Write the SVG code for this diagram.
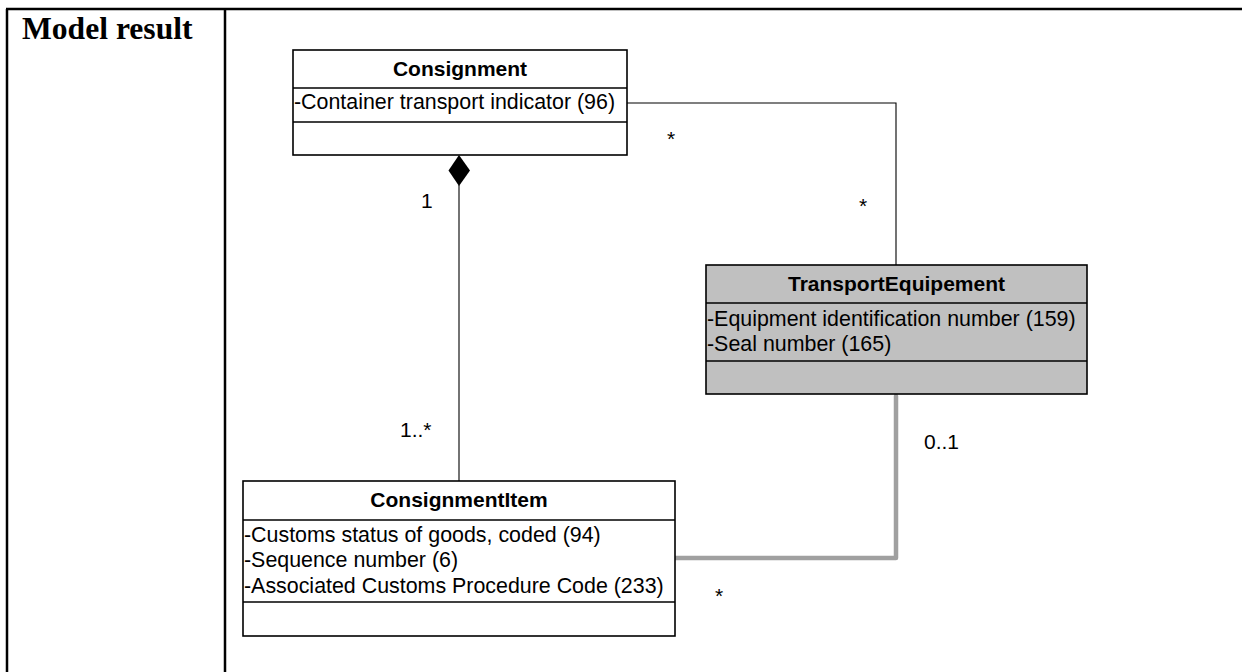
<svg xmlns="http://www.w3.org/2000/svg" width="1242" height="672" viewBox="0 0 1242 672">
<style>
.frame{stroke:#000;stroke-width:2.5;fill:none}
.box{stroke:#000;stroke-width:1.6;fill:#fff}
.gbox{stroke:#000;stroke-width:1.6;fill:#c0c0c0}
.div{stroke:#000;stroke-width:1.6}
.hd{font-family:"Liberation Sans",Arial,sans-serif;font-size:21px;font-weight:bold;fill:#000;text-anchor:middle}
.at{font-family:"Liberation Sans",Arial,sans-serif;font-size:21.4px;fill:#000}
.lb{font-family:"Liberation Sans",Arial,sans-serif;font-size:21px;fill:#000}
.thin{stroke:#000;stroke-width:1.1;fill:none}
.thick{stroke:#a0a0a0;stroke-width:4.5;fill:none;stroke-linecap:round;stroke-linejoin:round}
</style>
<rect width="1242" height="672" fill="#fff"/>
<g id="table">
<line class="frame" x1="6" y1="9" x2="1242" y2="9"/>
<line class="frame" x1="7" y1="9" x2="7" y2="672"/>
<line class="frame" x1="225" y1="9" x2="225" y2="672"/>
<text x="22" y="38.5" font-family="'Liberation Serif','Times New Roman',serif" font-size="31.6" font-weight="bold">Model result</text>
</g>
<g id="connectors">
<polyline class="thin" points="627,103 896,103 896,265"/>
<line class="thin" x1="459" y1="185" x2="459" y2="481"/>
<polygon points="459,155 470,170.5 459,186 448.5,170.5" fill="#000"/>
<polyline class="thick" points="896,396 896,558 675,558"/>
<text class="lb" x="667" y="146">*</text>
<text class="lb" x="859" y="213">*</text>
<text class="lb" x="421" y="208">1</text>
<text class="lb" x="400" y="437">1..*</text>
<text class="lb" x="924" y="449">0..1</text>
<text class="lb" x="715" y="603">*</text>
</g>
<g id="Consignment">
<rect class="box" x="293" y="50" width="334" height="105"/>
<line class="div" x1="293" y1="88" x2="627" y2="88"/>
<line class="div" x1="293" y1="122" x2="627" y2="122"/>
<text class="hd" x="460" y="76">Consignment</text>
<text class="at" x="294" y="109">-Container transport indicator (96)</text>
</g>
<g id="TransportEquipement">
<rect class="gbox" x="706" y="265" width="381" height="129"/>
<line class="div" x1="706" y1="303" x2="1087" y2="303"/>
<line class="div" x1="706" y1="361" x2="1087" y2="361"/>
<text class="hd" x="896.5" y="291">TransportEquipement</text>
<text class="at" x="707" y="326">-Equipment identification number (159)</text>
<text class="at" x="707" y="351">-Seal number (165)</text>
</g>
<g id="ConsignmentItem">
<rect class="box" x="243" y="481" width="432" height="155"/>
<line class="div" x1="243" y1="520" x2="675" y2="520"/>
<line class="div" x1="243" y1="602" x2="675" y2="602"/>
<text class="hd" x="459" y="507">ConsignmentItem</text>
<text class="at" x="244" y="541.5">-Customs status of goods, coded (94)</text>
<text class="at" x="244" y="567">-Sequence number (6)</text>
<text class="at" x="244" y="592.5">-Associated Customs Procedure Code (233)</text>
</g>
</svg>
